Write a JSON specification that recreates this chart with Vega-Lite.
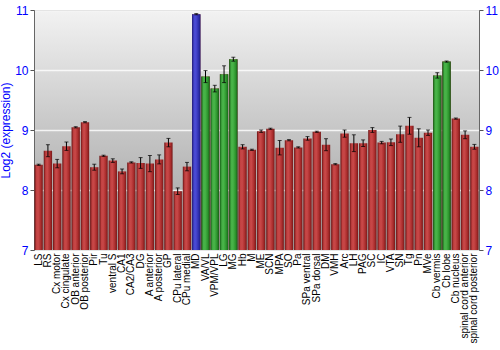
{
  "$schema": "https://vega.github.io/schema/vega-lite/v6.json",
  "width": 445,
  "height": 240,
  "autosize": "none",
  "padding": {"left": 34, "top": 10, "right": 21, "bottom": 100},
  "background": "white",
  "config": {
    "font": "Liberation Sans",
    "view": {
      "stroke": "#777",
      "strokeWidth": 1,
      "fill": {"gradient": "linear", "x1": 0, "y1": 0, "x2": 0, "y2": 1,
        "stops": [{"offset": 0, "color": "#f2f2f2"}, {"offset": 0.5, "color": "#c6c6c6"}, {"offset": 1, "color": "#9e9e9e"}]}
    }
  },
  "data": {"values": [
    {"region": "LS", "value": 8.42, "err": 0.01, "level": "base"},
    {"region": "RS", "value": 8.655, "err": 0.1, "level": "base"},
    {"region": "Cx motor", "value": 8.44, "err": 0.07, "level": "base"},
    {"region": "Cx cingulate", "value": 8.73, "err": 0.07, "level": "base"},
    {"region": "OB anterior", "value": 9.045, "err": 0.01, "level": "base"},
    {"region": "OB posterior", "value": 9.13, "err": 0.01, "level": "base"},
    {"region": "Pir", "value": 8.38, "err": 0.05, "level": "base"},
    {"region": "Tu", "value": 8.57, "err": 0.01, "level": "base"},
    {"region": "ventral S", "value": 8.49, "err": 0.03, "level": "base"},
    {"region": "CA1", "value": 8.31, "err": 0.04, "level": "base"},
    {"region": "CA2/CA3", "value": 8.46, "err": 0.01, "level": "base"},
    {"region": "DG", "value": 8.45, "err": 0.09, "level": "base"},
    {"region": "A anterior", "value": 8.44, "err": 0.135, "level": "base"},
    {"region": "A posterior", "value": 8.51, "err": 0.075, "level": "base"},
    {"region": "GP", "value": 8.79, "err": 0.07, "level": "base"},
    {"region": "CPu lateral", "value": 7.98, "err": 0.055, "level": "base"},
    {"region": "CPu medial", "value": 8.39, "err": 0.07, "level": "base"},
    {"region": "MD", "value": 10.93, "err": 0.01, "level": "top"},
    {"region": "VA/VL", "value": 9.89, "err": 0.1, "level": "high"},
    {"region": "VPM/VPL", "value": 9.69, "err": 0.055, "level": "high"},
    {"region": "LG", "value": 9.93, "err": 0.14, "level": "high"},
    {"region": "MG", "value": 10.18, "err": 0.033, "level": "high"},
    {"region": "Hb", "value": 8.72, "err": 0.035, "level": "base"},
    {"region": "M", "value": 8.67, "err": 0.01, "level": "base"},
    {"region": "ME", "value": 8.98, "err": 0.02, "level": "base"},
    {"region": "SCN", "value": 9.02, "err": 0.01, "level": "base"},
    {"region": "MPA", "value": 8.705, "err": 0.12, "level": "base"},
    {"region": "SO", "value": 8.83, "err": 0.01, "level": "base"},
    {"region": "Pa", "value": 8.71, "err": 0.01, "level": "base"},
    {"region": "SPa ventral", "value": 8.86, "err": 0.03, "level": "base"},
    {"region": "SPa dorsal", "value": 8.97, "err": 0.01, "level": "base"},
    {"region": "DM", "value": 8.755, "err": 0.1, "level": "base"},
    {"region": "VMH", "value": 8.43, "err": 0.01, "level": "base"},
    {"region": "Arc", "value": 8.94, "err": 0.06, "level": "base"},
    {"region": "LH", "value": 8.78, "err": 0.14, "level": "base"},
    {"region": "PAG", "value": 8.78, "err": 0.055, "level": "base"},
    {"region": "SC", "value": 9.0, "err": 0.04, "level": "base"},
    {"region": "IC", "value": 8.79, "err": 0.02, "level": "base"},
    {"region": "VTA", "value": 8.795, "err": 0.055, "level": "base"},
    {"region": "SN", "value": 8.93, "err": 0.135, "level": "base"},
    {"region": "Tg", "value": 9.07, "err": 0.14, "level": "base"},
    {"region": "Pn", "value": 8.87, "err": 0.15, "level": "base"},
    {"region": "MVe", "value": 8.955, "err": 0.045, "level": "base"},
    {"region": "Cb vermis", "value": 9.91, "err": 0.045, "level": "high"},
    {"region": "Cb lobe", "value": 10.14, "err": 0.01, "level": "high"},
    {"region": "Cb nucleus", "value": 9.19, "err": 0.01, "level": "base"},
    {"region": "spinal cord anterior", "value": 8.92, "err": 0.065, "level": "base"},
    {"region": "spinal cord posterior", "value": 8.72, "err": 0.04, "level": "base"}
  ]},
  "encoding": {
    "x": {"field": "region", "type": "nominal", "sort": null,
      "scale": {"paddingInner": 0.1, "paddingOuter": 0.05},
      "axis": {"title": null, "labelAngle": 270, "labelFontSize": 10, "labelColor": "black", "labelPadding": 3, "ticks": false, "domain": false}}
  },
  "layer": [
    {
      "mark": {"type": "bar", "fill": {"gradient": "linear", "x1": 0, "y1": 0, "x2": 1, "y2": 0,
        "stops": [{"offset": 0, "color": "#6a1212"}, {"offset": 0.25, "color": "#c34242"}, {"offset": 0.45, "color": "#c84848"}, {"offset": 0.75, "color": "#ac2e2e"}, {"offset": 1, "color": "#761818"}]}},
      "encoding": {
        "y": {"field": "value", "type": "quantitative", "scale": {"domain": [7, 11], "zero": false, "nice": false},
          "axis": {"title": "Log2 (expression)", "titleColor": "#0000ff", "titleFontSize": 12, "titleFontWeight": "normal", "titlePadding": 2,
            "labelColor": "#0000ff", "labelFontSize": 12, "values": [7, 8, 9, 10, 11], "tickColor": "#555", "tickSize": 4, "labelPadding": 2,
            "domainColor": "#666", "grid": true, "gridColor": "white", "gridWidth": 1.5, "gridOpacity": 0.8}},
        "y2": {"datum": 7}
      }
    },
    {
      "transform": [{"filter": "datum.level === 'top'"}],
      "mark": {"type": "bar", "fill": {"gradient": "linear", "x1": 0, "y1": 0, "x2": 1, "y2": 0,
        "stops": [{"offset": 0, "color": "#1c1c80"}, {"offset": 0.25, "color": "#4848d0"}, {"offset": 0.45, "color": "#4a4ad4"}, {"offset": 0.75, "color": "#3030b0"}, {"offset": 1, "color": "#1c1c80"}]}},
      "encoding": {"y": {"field": "value", "type": "quantitative", "axis": null}, "y2": {"datum": 7}}
    },
    {
      "transform": [{"filter": "datum.level === 'high'"}],
      "mark": {"type": "bar", "fill": {"gradient": "linear", "x1": 0, "y1": 0, "x2": 1, "y2": 0,
        "stops": [{"offset": 0, "color": "#145e14"}, {"offset": 0.25, "color": "#46b046"}, {"offset": 0.45, "color": "#48b448"}, {"offset": 0.75, "color": "#2e962e"}, {"offset": 1, "color": "#166016"}]}},
      "encoding": {"y": {"field": "value", "type": "quantitative", "axis": null}, "y2": {"datum": 7}}
    },
    {
      "mark": {"type": "errorbar", "color": "black", "thickness": 1, "ticks": {"size": 4, "color": "black"}},
      "encoding": {
        "y": {"field": "value", "type": "quantitative",
          "axis": {"orient": "right", "title": null, "labelColor": "#0000ff", "labelFontSize": 12, "values": [7, 8, 9, 10, 11],
            "tickColor": "#555", "tickSize": 4, "labelPadding": 2, "domainColor": "#666", "grid": false}},
        "yError": {"field": "err"}
      }
    }
  ],
  "resolve": {"axis": {"y": "independent"}}
}
